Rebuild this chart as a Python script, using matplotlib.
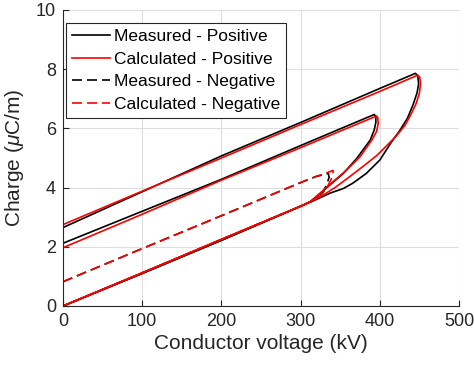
import matplotlib
matplotlib.use("Agg")
import matplotlib.pyplot as plt

# 측정/계산 Q-V 곡선 (그림에서 읽은 값, kV / uC/m)
V_meas_big = [0, 100, 200, 300, 320, 337, 354, 366, 383, 400, 415, 425, 435, 442, 447, 449, 448, 445, 400, 300, 200, 100, 0]
Q_meas_big = [0, 1.10, 2.22, 3.37, 3.60, 3.81, 3.97, 4.15, 4.48, 4.93, 5.55, 5.92, 6.35, 6.80, 7.20, 7.50, 7.78, 7.86, 7.35, 6.20, 5.07, 3.86, 2.65]

V_calc_big = [0, 100, 200, 300, 316, 330, 345, 362, 379, 396, 410, 421, 432, 440, 446, 450, 451.5, 450.5, 448, 400, 300, 200, 100, 0]
Q_calc_big = [0, 1.12, 2.25, 3.37, 3.57, 3.77, 4.03, 4.37, 4.72, 5.08, 5.45, 5.75, 6.11, 6.51, 6.85, 7.19, 7.52, 7.72, 7.80, 7.25, 6.13, 5.00, 3.88, 2.75]

V_meas_mid = [0, 100, 200, 300, 312, 324, 337, 354, 371, 388, 393, 395, 395, 393, 300, 200, 100, 0]
Q_meas_mid = [0, 1.10, 2.22, 3.37, 3.52, 3.78, 4.09, 4.48, 4.99, 5.61, 5.95, 6.20, 6.40, 6.47, 5.42, 4.28, 3.20, 2.12]

V_calc_mid = [0, 100, 200, 300, 312, 324, 341, 358, 375, 390, 396, 398, 397.5, 396, 300, 200, 100, 0]
Q_calc_mid = [0, 1.12, 2.25, 3.37, 3.52, 3.80, 4.20, 4.59, 5.04, 5.61, 5.90, 6.17, 6.35, 6.42, 5.35, 4.25, 3.10, 1.97]

# 음극성: 내려오는 가지부터 (0, 0.82) -> 정점 -> 원점 순서
V_meas_neg = [0, 100, 200, 300, 320, 330, 335, 336, 333, 328, 318, 300, 200, 100, 0]
Q_meas_neg = [0.82, 1.94, 3.05, 4.17, 4.38, 4.44, 4.48, 4.35, 4.10, 3.85, 3.60, 3.37, 2.25, 1.12, 0]

V_calc_neg = [0, 100, 200, 300, 320, 335, 341, 341, 338, 333, 325, 315, 300, 200, 100, 0]
Q_calc_neg = [0.82, 1.94, 3.05, 4.17, 4.38, 4.52, 4.58, 4.45, 4.25, 3.98, 3.72, 3.55, 3.37, 2.25, 1.12, 0]

x_ticks = [0, 100, 200, 300, 400, 500]
y_ticks = [0, 2, 4, 6, 8, 10]

plt.rcParams['font.family'] = ['Liberation Sans', 'DejaVu Sans']
plt.rcParams['mathtext.fontset'] = 'custom'
plt.rcParams['mathtext.it'] = 'Liberation Sans:italic'
plt.rcParams['mathtext.rm'] = 'Liberation Sans'

fig = plt.figure(figsize=(4.74, 3.66), dpi=100)
ax = fig.add_axes([63 / 474, 60 / 366, 396 / 474, 296 / 366])

lw = 1.2
dash = (0, (6, 3))
# 점선은 실선 아래에 그림
l3, = ax.plot(V_meas_neg, Q_meas_neg, color='black', lw=lw, ls=dash, zorder=1.5, label='Measured - Negative')
l4, = ax.plot(V_calc_neg, Q_calc_neg, color='red', lw=lw, ls=dash, zorder=1.6, label='Calculated - Negative')
l1, = ax.plot(V_meas_big, Q_meas_big, color='black', lw=lw, zorder=2, label='Measured - Positive')
ax.plot(V_meas_mid, Q_meas_mid, color='black', lw=lw, zorder=2)
l2, = ax.plot(V_calc_big, Q_calc_big, color='red', lw=lw, zorder=2.1, label='Calculated - Positive')
ax.plot(V_calc_mid, Q_calc_mid, color='red', lw=lw, zorder=2.1)

ax.set_xlim(0, 500)
ax.set_ylim(0, 10)
ax.set_xticks(x_ticks)
ax.set_yticks(y_ticks)
ax.grid(True, color='#dedede', lw=0.8)
ax.set_axisbelow(True)
for s in ['top', 'right']:
    ax.spines[s].set_visible(False)
for s in ['left', 'bottom']:
    ax.spines[s].set_color('#262626')
    ax.spines[s].set_linewidth(0.8)
ax.tick_params(direction='in', length=4, width=0.8, colors='#262626', labelsize=13, pad=5)

ax.set_xlabel('Conductor voltage (kV)', fontsize=15, color='#262626', labelpad=3)
ax.set_ylabel('Charge ($\\mu$C/m)', fontsize=15, color='#262626', labelpad=7)

leg = ax.legend(handles=[l1, l2, l3, l4], loc='upper left', fontsize=12.5, frameon=True,
                fancybox=False, edgecolor='#262626', framealpha=1, borderpad=0.35,
                handlelength=2.2, handletextpad=0.2, labelspacing=0.42,
                bbox_to_anchor=(0.008, 0.956), borderaxespad=0)
leg.get_frame().set_linewidth(0.8)

fig.savefig('out.png', dpi=100)
